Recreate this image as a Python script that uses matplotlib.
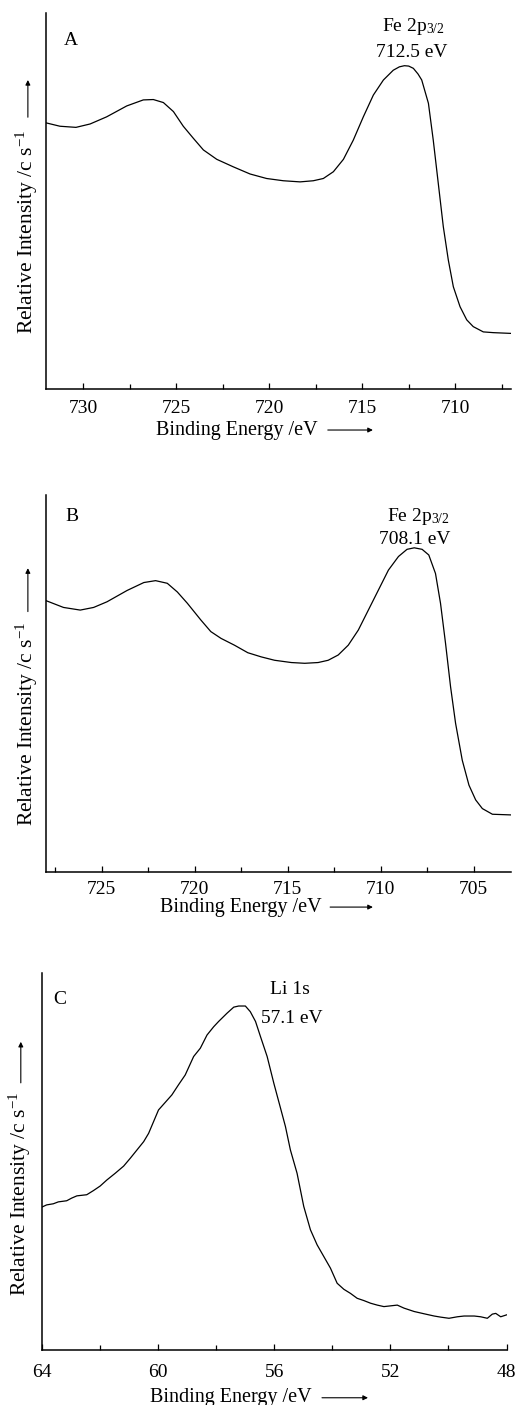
import numpy as np
import matplotlib
matplotlib.use('Agg')
import matplotlib.pyplot as plt

plt.rcParams['font.family'] = ['Liberation Serif', 'DejaVu Serif']
plt.rcParams['mathtext.fontset'] = 'custom'
plt.rcParams['mathtext.rm'] = 'Liberation Serif'
plt.rcParams['mathtext.it'] = 'Liberation Serif:italic'

# panel A - Fe 2p
a_be = [732.00, 731.25, 730.39, 729.63, 728.74, 727.66, 726.77, 726.23, 725.69, 725.15,
        724.62, 724.08, 723.54, 722.82, 721.93, 721.03, 720.14, 719.24, 718.34, 717.63,
        717.09, 716.55, 716.01, 715.48, 714.94, 714.40, 713.86, 713.33, 713.00, 712.73,
        712.50, 712.25, 712.00, 711.80, 711.44, 711.18, 710.91, 710.64, 710.37, 710.10,
        709.74, 709.38, 709.03, 708.49, 707.95, 707.00]
a_int = [70.8, 69.9, 69.6, 70.5, 72.4, 75.3, 76.9, 77.0, 76.2, 73.8,
         69.9, 66.7, 63.6, 61.1, 59.1, 57.2, 56.0, 55.4, 55.1, 55.4,
         56.0, 57.8, 61.1, 66.2, 72.4, 78.2, 82.2, 84.8, 85.7, 86.0,
         85.9, 85.3, 83.8, 82.2, 76.0, 66.2, 54.7, 43.2, 34.3, 27.2,
         21.9, 18.4, 16.6, 15.2, 15.0, 14.8]

# panel B - Fe 2p
b_be = [728.00, 727.06, 726.16, 725.44, 724.72, 723.64, 722.74, 722.11, 721.48, 720.94,
        720.40, 719.68, 719.14, 718.59, 717.87, 717.15, 716.43, 715.71, 714.81, 714.09,
        713.37, 712.83, 712.29, 711.75, 711.21, 710.67, 710.13, 709.59, 709.05, 708.59,
        708.20, 707.78, 707.42, 707.06, 706.79, 706.52, 706.25, 705.98, 705.62, 705.26,
        704.90, 704.54, 704.00, 702.88]
b_int = [72.0, 70.2, 69.5, 70.2, 71.7, 74.7, 76.8, 77.3, 76.6, 74.3,
         71.3, 66.9, 63.8, 62.0, 60.2, 58.2, 57.1, 56.2, 55.6, 55.4,
         55.6, 56.2, 57.6, 60.2, 64.2, 69.5, 74.8, 80.1, 83.7, 85.6,
         86.0, 85.6, 84.1, 79.2, 71.3, 60.7, 49.2, 39.5, 29.7, 23.1,
         19.2, 16.9, 15.4, 15.2]

# panel C - Li 1s
c_be = [64.00, 63.83, 63.60, 63.43, 63.14, 62.97, 62.79, 62.45, 62.22, 61.99,
        61.76, 61.47, 61.18, 60.95, 60.72, 60.49, 60.32, 60.15, 59.98, 59.75,
        59.52, 59.29, 59.06, 58.77, 58.54, 58.31, 58.08, 57.91, 57.62, 57.39,
        57.22, 56.99, 56.82, 56.64, 56.47, 56.24, 56.01, 55.78, 55.61, 55.44,
        55.21, 54.98, 54.75, 54.52, 54.29, 54.06, 53.83, 53.60, 53.37, 53.14,
        52.91, 52.68, 52.45, 52.22, 51.99, 51.76, 51.53, 51.18, 50.84, 50.49,
        50.26, 49.98, 49.69, 49.46, 49.11, 48.89, 48.66, 48.49, 48.37, 48.20,
        48.00]
c_int = [37.9, 38.5, 38.8, 39.3, 39.6, 40.3, 40.9, 41.2, 42.3, 43.5,
         45.1, 46.9, 48.8, 50.9, 53.1, 55.3, 57.5, 60.6, 63.7, 65.7,
         67.7, 70.4, 73.0, 77.9, 80.1, 83.6, 85.8, 87.2, 89.4, 91.0,
         91.3, 91.3, 89.8, 87.2, 83.2, 77.9, 70.8, 64.2, 59.3, 53.1,
         46.9, 38.1, 31.9, 27.9, 24.8, 21.7, 17.7, 16.1, 15.0, 13.7,
         13.1, 12.4, 11.9, 11.5, 11.7, 11.9, 11.1, 10.2, 9.6, 9.0,
         8.7, 8.4, 8.8, 9.0, 9.0, 8.8, 8.4, 9.5, 9.7, 8.8,
         9.3]

fig = plt.figure(figsize=(5.17, 14.05), dpi=100)

panels = [
    dict(rect=[0.0890, 0.7231, 0.8994, 0.2676], x=a_be, y=a_int, xlim=(732, 707),
         major=[730, 725, 720, 715, 710], minor=2.5, pad=8, tag='A', tag_pos=(0.054, 0.926),
         peak=('Fe 2p$_{\\mathrm{3/2}}$', '712.5 eV'), p1=(0.789, 0.963), p2=(0.787, 0.894),
         ylab=(-0.041, 0.419), yarr=(0.723, 0.822),
         xlab=(0.41, -0.109), xarr=(0.606, 0.703)),
    dict(rect=[0.0890, 0.3791, 0.8994, 0.2686], x=b_be, y=b_int, xlim=(728, 703),
         major=[725, 720, 715, 710, 705], minor=2.5, pad=6, tag='B', tag_pos=(0.056, 0.942),
         peak=('Fe 2p$_{\\mathrm{3/2}}$', '708.1 eV'), p1=(0.80, 0.942), p2=(0.794, 0.881),
         ylab=(-0.041, 0.393), yarr=(0.691, 0.806),
         xlab=(0.42, -0.092), xarr=(0.611, 0.703)),
    dict(rect=[0.0807, 0.0392, 0.8990, 0.2681], x=c_be, y=c_int, xlim=(64, 48),
         major=[64, 60, 56, 52, 48], minor=2, pad=10, tag='C', tag_pos=(0.039, 0.929),
         peak=('Li 1s', '57.1 eV'), p1=(0.534, 0.956), p2=(0.539, 0.881),
         ylab=(-0.047, 0.414), yarr=(0.709, 0.818),
         xlab=(0.406, -0.127), xarr=(0.603, 0.702)),
]

arrow = dict(arrowstyle='-|>', color='k', lw=0.8, mutation_scale=7, shrinkA=0, shrinkB=0)

for p in panels:
    ax = fig.add_axes(p['rect'])
    ax.plot(p['x'], p['y'], color='k', lw=0.9)
    ax.set_xlim(*p['xlim'])
    ax.set_ylim(0, 100)
    ax.spines['top'].set_visible(False)
    ax.spines['right'].set_visible(False)
    ax.spines['left'].set_linewidth(1.1)
    ax.spines['bottom'].set_linewidth(1.1)
    ax.set_yticks([])
    ax.set_xticks(p['major'])
    ax.xaxis.set_minor_locator(matplotlib.ticker.MultipleLocator(p['minor']))
    ax.tick_params(axis='x', which='major', direction='in', length=4, width=0.9,
                   labelsize=14, pad=p['pad'])
    ax.tick_params(axis='x', which='minor', direction='in', length=3.5, width=0.9)

    tr = ax.transAxes
    ax.text(*p['tag_pos'], p['tag'], transform=tr, ha='center', va='center', fontsize=14)
    ax.text(*p['p1'], p['peak'][0], transform=tr, ha='center', va='center', fontsize=14)
    ax.text(*p['p2'], p['peak'][1], transform=tr, ha='center', va='center', fontsize=14)

    # axis labels with the little arrows
    ax.text(p['ylab'][0], p['ylab'][1], 'Relative Intensity /c s$^{\\mathrm{-1}}$',
            transform=tr, rotation=90, ha='center', va='center', fontsize=15.5)
    ax.annotate('', xy=(p['ylab'][0] + 0.002, p['yarr'][1]),
                xytext=(p['ylab'][0] + 0.002, p['yarr'][0]),
                xycoords='axes fraction', arrowprops=arrow, annotation_clip=False)
    ax.text(p['xlab'][0], p['xlab'][1], 'Binding Energy /eV', transform=tr,
            ha='center', va='center', fontsize=14.5)
    ax.annotate('', xy=(p['xarr'][1], p['xlab'][1]), xytext=(p['xarr'][0], p['xlab'][1]),
                xycoords='axes fraction', arrowprops=arrow, annotation_clip=False)

fig.savefig('out.png', dpi=100)
